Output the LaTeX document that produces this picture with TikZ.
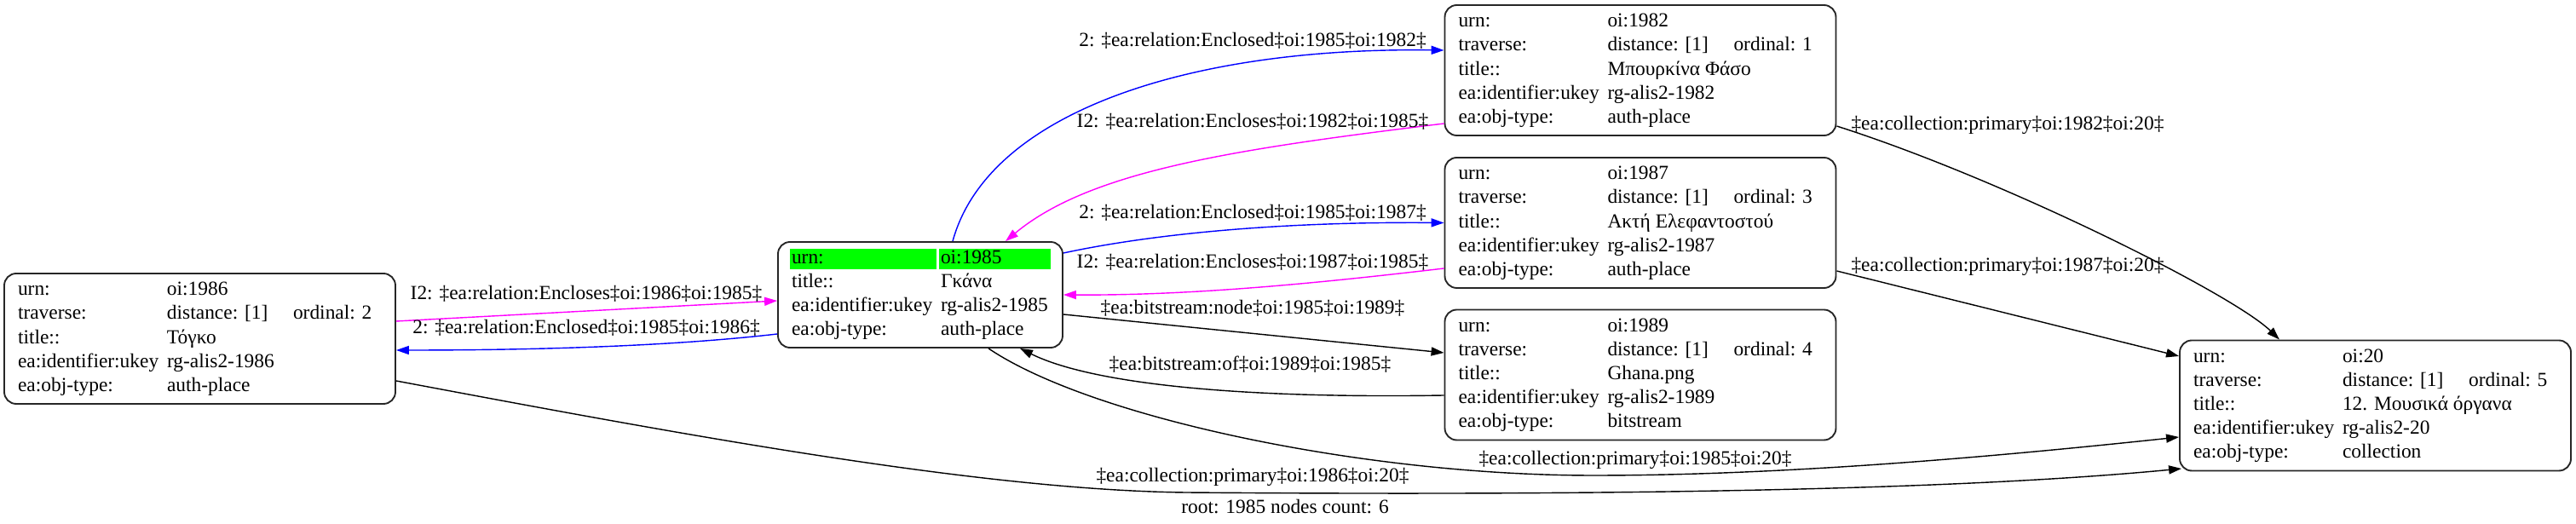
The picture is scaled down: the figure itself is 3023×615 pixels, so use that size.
\documentclass[tikz,border=0pt]{standalone}
\usepackage{fontspec}
\setmainfont{Liberation Serif}
\usetikzlibrary{arrows.meta,calc}

\newlength\pxu
\setlength\pxu{0.015cm}
\setlength\fboxsep{2\pxu}
\definecolor{rootgreen}{RGB}{0,255,0}
\definecolor{encblue}{RGB}{0,0,255}
\definecolor{encmag}{RGB}{255,0,255}

\newcommand\cc[2]{\makebox[#1\pxu][l]{#2}}
\newcommand\hlcell[3]{\cc{#1}{\hspace*{-2\pxu}\colorbox{rootgreen}{\cc{#2}{\rule[-2.15pt]{0pt}{8.95pt}#3}}}}
% urn number, ordinal, title, obj-type
\newcommand\objtab[4]{%
  \begin{tabular}{@{}l@{}l@{}l@{}}
  \cc{175}{urn:} & \cc{148}{oi:#1} & \\
  \cc{175}{traverse:} & \cc{148}{distance: [1]} & \cc{104}{ordinal: #2}\\
  \cc{175}{title::} & \cc{148}{#3} & \\
  \cc{175}{ea:identifier:ukey} & \cc{148}{rg-alis2-#1} & \\
  \cc{175}{ea:obj-type:} & \cc{148}{#4} &
  \end{tabular}}

\begin{document}
\begin{tikzpicture}[x=0.015cm,y=-0.015cm,
  obj/.style={draw=black!85,line width=0.8pt,rounded corners=6pt,inner xsep=16\pxu,inner ysep=0pt,
              minimum width=459\pxu,minimum height=153\pxu},
  lbl/.style={inner sep=0pt},
  link/.style={line width=0.6pt,-{Triangle[length=6.4pt,width=4.3pt]}},
  enclosed/.style={link,encblue},
  encloses/.style={link,encmag}]
\useasboundingbox (0,0) rectangle (3023,615);

\node[obj] (n1986) at (234.5,397.5) {\objtab{1986}{2}{Τόγκο}{auth-place}};
\node[obj,minimum width=334\pxu,minimum height=124\pxu] (n1985) at (1080,346)
  {\begin{tabular}{@{}l@{}l@{}}
   \hlcell{175}{168}{urn:} & \hlcell{127}{127}{oi:1985}\\
   \cc{175}{title::} & \cc{127}{Γκάνα}\\
   \cc{175}{ea:identifier:ukey} & \cc{127}{rg-alis2-1985}\\
   \cc{175}{ea:obj-type:} & \cc{127}{auth-place}
   \end{tabular}};
\node[obj] (n1982) at (1925,82.5) {\objtab{1982}{1}{Μπουρκίνα Φάσο}{auth-place}};
\node[obj] (n1987) at (1925,261.5) {\objtab{1987}{3}{Ακτή Ελεφαντοστού}{auth-place}};
\node[obj] (n1989) at (1925,440) {\objtab{1989}{4}{Ghana.png}{bitstream}};
\node[obj] (n20) at (2787.5,476) {\objtab{20}{5}{12. Μουσικά όργανα}{collection}};

% relations round the root
\draw[enclosed] ($(n1985.north)+(38,0)$) .. controls (1160,130) and (1400,55) .. ($(n1982.west)+(0,-23.5)$);
\draw[encloses] ($(n1982.west)+(0,62.5)$) .. controls (1450,175) and (1280,200) .. ($(n1985.north)+(100,0)$);
\draw[enclosed] ($(n1985.east)+(0,-49)$) .. controls (1350,275) and (1500,260) .. (n1987.west);
\draw[encloses] ($(n1987.west)+(0,53.5)$) .. controls (1550,332) and (1400,347) .. (n1985.east);
\draw[link] ($(n1985.east)+(0,23)$) -- ($(n1989.west)+(0,-26)$);
\draw[link] ($(n1989.west)+(0,24)$) .. controls (1450,468) and (1280,450) .. ($(n1985.south)+(117,0)$);
\draw[encloses] ($(n1986.east)+(0,-20.5)$) -- ($(n1985.west)+(0,7)$);
\draw[enclosed] ($(n1985.west)+(0,46)$) .. controls (800,405) and (650,411) .. ($(n1986.east)+(0,13.5)$);

% collection links
\draw[link] ($(n1986.east)+(0,49.5)$) .. controls (800,510) and (1150,575) .. (1391,578)
  .. controls (1900,582) and (2300,575) .. ($(n20.west)+(3,74)$);
\draw[link] ($(n1985.south)+(80,0)$) .. controls (1280,490) and (1600,558) .. (1870,558)
  .. controls (2100,558) and (2350,535) .. ($(n20.west)+(0,37)$);
\draw[link] ($(n1982.east)+(0,65.5)$) .. controls (2350,210) and (2620,345) .. ($(n20.north)+(-112.5,0)$);
\draw[link] ($(n1987.east)+(0,56.5)$) -- ($(n20.west)+(0,-58)$);

\node[lbl] (l1) at (1470,48) {2: ‡ea:relation:Enclosed‡oi:1985‡oi:1982‡};
\node[lbl] (l2) at (1470,143) {I2: ‡ea:relation:Encloses‡oi:1982‡oi:1985‡};
\node[lbl] (l3) at (1470,250) {2: ‡ea:relation:Enclosed‡oi:1985‡oi:1987‡};
\node[lbl] (l4) at (1470,308) {I2: ‡ea:relation:Encloses‡oi:1987‡oi:1985‡};
\node[lbl] (l5) at (1470,362) {‡ea:bitstream:node‡oi:1985‡oi:1989‡};
\node[lbl] (l6) at (1467,428) {‡ea:bitstream:of‡oi:1989‡oi:1985‡};
\node[lbl] (l7) at (688,345) {I2: ‡ea:relation:Encloses‡oi:1986‡oi:1985‡};
\node[lbl] (l8) at (688,385) {2: ‡ea:relation:Enclosed‡oi:1985‡oi:1986‡};
\node[lbl] (l9) at (1470,560) {‡ea:collection:primary‡oi:1986‡oi:20‡};
\node[lbl] (l10) at (1919,540) {‡ea:collection:primary‡oi:1985‡oi:20‡};
\node[lbl] (l11) at (2356,147) {‡ea:collection:primary‡oi:1982‡oi:20‡};
\node[lbl] (l12) at (2356,313) {‡ea:collection:primary‡oi:1987‡oi:20‡};
\node[lbl] (root) at (1508,595) {root: 1985 nodes count: 6};
\end{tikzpicture}
\end{document}
